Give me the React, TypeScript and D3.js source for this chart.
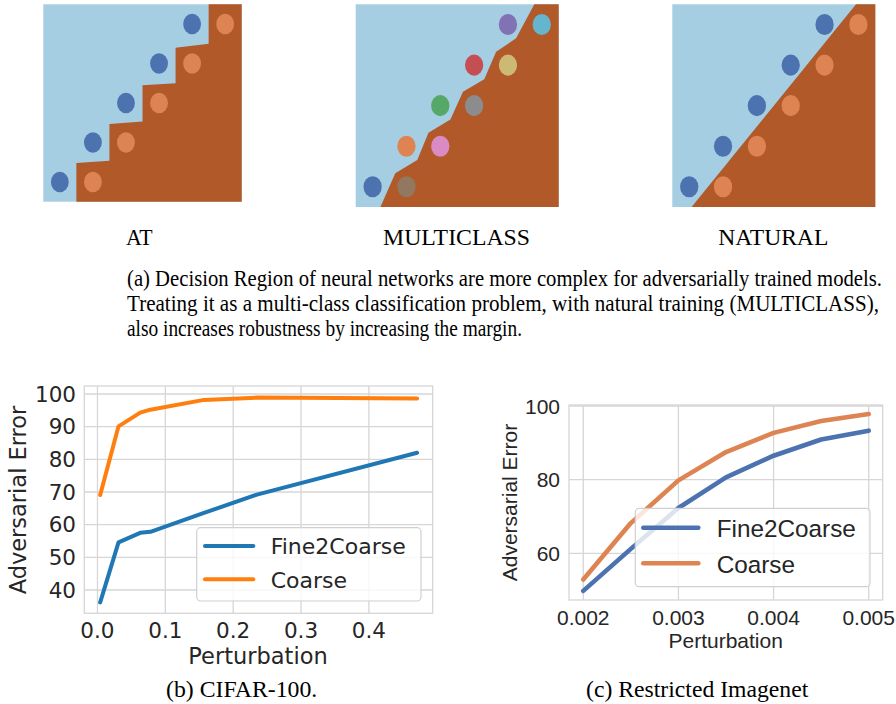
import React from 'react';
import * as d3 from 'd3';

// ---- panel (a): decision regions, grid of 6 columns x 5 rows (y counted from bottom)
const regionRows = [0, 1, 2, 3, 4];
const multiLeftColors = ['#4C72B0', '#DD8452', '#55A868', '#C44E52', '#8172B3'];
const multiRightColors = ['#937860', '#DA8BC3', '#8C8C8C', '#CCB974', '#64B5CD'];
const atBoundary = [[1, 0], [1, 0.98], [2, 1.04], [2, 1.97], [3, 2.03], [3, 2.95], [4, 3.0], [4, 3.9], [5, 4.0], [5, 5]];
const multiBoundary = [[0.73, 0], [1.17, 0.83], [1.82, 1.16], [2.15, 1.83], [2.8, 2.16], [3.17, 2.84], [3.8, 3.15], [4.15, 3.83], [4.74, 4.16], [5.28, 5]];
const naturalBoundary = [[0.57, 0], [5.43, 5]];

// ---- panel (b): CIFAR-100
const cifarX = [0.004, 0.031, 0.063, 0.078, 0.157, 0.235, 0.471];
const cifarFine = [36.2, 54.6, 57.5, 57.8, 63.6, 69.2, 82.0];
const cifarCoarse = [69.1, 90.1, 94.3, 95.2, 98.2, 98.9, 98.6];
const cifarXTicks = [0, 0.1, 0.2, 0.3, 0.4];
const cifarYTicks = [40, 50, 60, 70, 80, 90, 100];

// ---- panel (c): Restricted Imagenet
const imagenetX = [0.002, 0.0025, 0.003, 0.0035, 0.004, 0.0045, 0.005];
const imagenetFine = [49.8, 61.2, 72.3, 80.6, 86.5, 90.9, 93.3];
const imagenetCoarse = [52.9, 68.2, 79.8, 87.5, 92.7, 95.9, 97.8];
const imagenetXTicks = [0.002, 0.003, 0.004, 0.005];
const imagenetYTicks = [60, 80, 100];

const seriesNames = ['Fine2Coarse', 'Coarse'];

// caption lines: [text, x, baseline, width]
const captions = [
  ['AT', 126, 245, 26.7],
  ['MULTICLASS', 383, 245, 147],
  ['NATURAL', 718.3, 245, 110],
  ['(a) Decision Region of neural networks are more complex for adversarially trained models.', 127, 286, 755],
  ['Treating it as a multi-class classification problem, with natural training (MULTICLASS),', 127, 311, 752],
  ['also increases robustness by increasing the margin.', 127, 336, 395],
  ['(b) CIFAR-100.', 166, 697, 151.3],
  ['(c) Restricted Imagenet', 586, 697, 222.3],
];

const serif = '"Liberation Serif", "Times New Roman", serif';
const grid = '#d6d6d6';
const ink = '#262626';

function Region({ x0, y0, w, h, boundary, left, right }) {
  const sx = d3.scaleLinear().domain([0, 6]).range([x0, x0 + w]);
  const sy = d3.scaleLinear().domain([0, 5]).range([y0 + h, y0]);
  const poly = [...boundary, [6, 5], [6, 0]];
  const line = d3.line().x(d => sx(d[0])).y(d => sy(d[1]));
  const rx = (w / 6) * 0.27;
  const ry = (h / 5) * 0.26;
  return (
    <g>
      <rect x={x0} y={y0} width={w} height={h} fill="#a6cee3" />
      <path d={line(poly) + 'Z'} fill="#b15928" />
      {regionRows.map(r => (
        <g key={r}>
          <ellipse cx={sx(r + 0.5)} cy={sy(r + 0.5)} rx={rx} ry={ry} fill={left[r]} />
          <ellipse cx={sx(r + 1.5)} cy={sy(r + 0.5)} rx={rx} ry={ry} fill={right[r]} />
        </g>
      ))}
    </g>
  );
}

function LineChart(p) {
  const sx = d3.scaleLinear().domain(p.xDomain).range([p.left, p.right]);
  const sy = d3.scaleLinear().domain(p.yDomain).range([p.bottom, p.top]);
  const line = d3.line().x((d, i) => sx(p.xs[i])).y(d => sy(d));
  const L = p.legend;
  return (
    <g fontFamily={p.font} fill={ink}>
      <rect x={p.left} y={p.top} width={p.right - p.left} height={p.bottom - p.top} fill="white" stroke={grid} strokeWidth={1.3} />
      {p.xTicks.map(t => (
        <line key={'gx' + t} x1={sx(t)} x2={sx(t)} y1={p.top} y2={p.bottom} stroke={grid} strokeWidth={1.3} />
      ))}
      {p.yTicks.map(t => (
        <line key={'gy' + t} x1={p.left} x2={p.right} y1={sy(t)} y2={sy(t)} stroke={grid} strokeWidth={1.3} />
      ))}
      {p.series.map((s, i) => (
        <path key={i} d={line(s)} fill="none" stroke={p.colors[i]} strokeWidth={p.lw} strokeLinecap="round" strokeLinejoin="round" />
      ))}
      {p.xTicks.map(t => (
        <text key={'tx' + t} x={sx(t)} y={p.bottom + p.xTickOff} textAnchor="middle" fontSize={p.tickSize}>{p.xFmt(t)}</text>
      ))}
      {p.yTicks.map(t => (
        <text key={'ty' + t} x={p.left - p.yTickOff} y={sy(t) + p.tickSize * 0.36} textAnchor="end" fontSize={p.tickSize}>{t}</text>
      ))}
      <text x={p.xLabelX} y={p.bottom + p.xLabelOff} textAnchor="middle" fontSize={p.labelSize}>Perturbation</text>
      <text transform={`translate(${p.yLabelX},${p.yLabelY}) rotate(-90)`} textAnchor="middle" fontSize={p.labelSize}>Adversarial Error</text>
      <rect x={L.x} y={L.y} width={L.w} height={L.h} rx={4} fill="white" fillOpacity={0.8} stroke="#d0d0d0" strokeWidth={1.2} />
      {seriesNames.map((n, i) => (
        <g key={n}>
          <line x1={L.lx1} x2={L.lx2} y1={L.ly[i]} y2={L.ly[i]} stroke={p.colors[i]} strokeWidth={p.lw} strokeLinecap="round" />
          <text x={L.tx} y={L.ty[i]} fontSize={L.size}>{n}</text>
        </g>
      ))}
    </g>
  );
}

export default function App() {
  const blues = regionRows.map(() => '#4C72B0');
  const oranges = regionRows.map(() => '#DD8452');
  return (
    <svg width={896} height={704} style={{ position: 'absolute', left: 0, top: 0, background: 'white' }}>
      <Region x0={43.3} y0={4.3} w={198.4} h={197.4} boundary={atBoundary} left={blues} right={oranges} />
      <Region x0={355.7} y0={4.3} w={203} h={202.7} boundary={multiBoundary} left={multiLeftColors} right={multiRightColors} />
      <Region x0={672.3} y0={4.3} w={203} h={202.7} boundary={naturalBoundary} left={blues} right={oranges} />

      <g fontFamily={serif} fill="black">
        {captions.map(([t, x, y, w]) => (
          <g key={t} transform={`translate(${x},${y}) scale(1,1.27)`}>
            <text x={0} y={0} fontSize={18.9} textLength={w} lengthAdjust="spacingAndGlyphs">{t}</text>
          </g>
        ))}
      </g>

      <LineChart
        left={84.3} right={432.7} top={386} bottom={613.3}
        xDomain={[-0.0194, 0.494]} yDomain={[32.87, 102.45]}
        xs={cifarX} series={[cifarFine, cifarCoarse]} colors={['#1f77b4', '#ff7f0e']} lw={4}
        xTicks={cifarXTicks} yTicks={cifarYTicks} xFmt={d3.format('.1f')}
        font='"DejaVu Sans", sans-serif' tickSize={21.5} labelSize={22.5}
        xTickOff={24.7} yTickOff={8.3} xLabelX={258} xLabelOff={50.7} yLabelX={25.5} yLabelY={500}
        legend={{ x: 196.7, y: 527.7, w: 224.3, h: 73.3, lx1: 205, lx2: 253.3, ly: [546, 579.3], tx: 270.7, ty: [554.3, 587.7], size: 22 }}
      />
      <LineChart
        left={569} right={882.7} top={405} bottom={600}
        xDomain={[0.00185, 0.005147]} yDomain={[47.32, 100.27]}
        xs={imagenetX} series={[imagenetFine, imagenetCoarse]} colors={['#4C72B0', '#DD8452']} lw={4.6}
        xTicks={imagenetXTicks} yTicks={imagenetYTicks} xFmt={d3.format('.3f')}
        font='"Liberation Sans", Arial, sans-serif' tickSize={21} labelSize={21}
        xTickOff={25} yTickOff={9} xLabelX={725.7} xLabelOff={48} yLabelX={517} yLabelY={502.5}
        legend={{ x: 635.3, y: 508.3, w: 234.7, h: 78.4, lx1: 643.3, lx2: 698.3, ly: [527.7, 563.3], tx: 716.7, ty: [536.7, 572.7], size: 24.3 }}
      />
    </svg>
  );
}
